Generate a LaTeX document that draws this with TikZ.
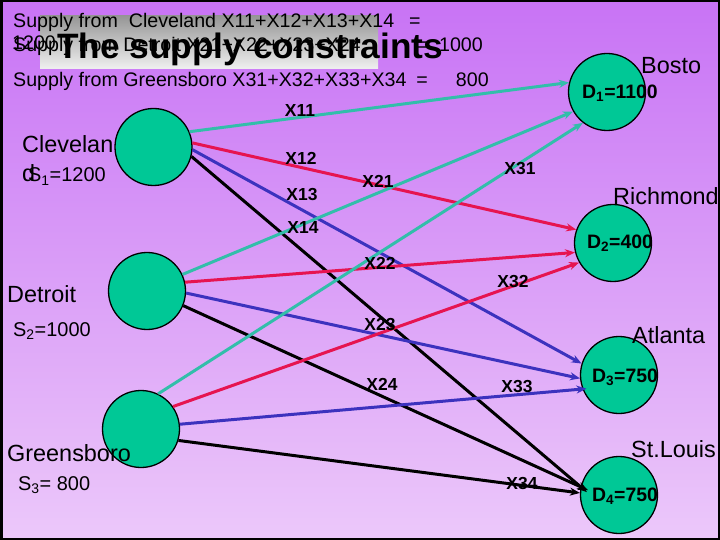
\documentclass[tikz,border=0pt]{standalone}
\usepackage{fontspec}
\setmainfont{Liberation Sans}
\usetikzlibrary{arrows.meta}
\definecolor{bgtop}{RGB}{200,115,245}
\definecolor{bgbot}{RGB}{236,200,250}
\definecolor{nodefill}{RGB}{0,200,150}
\definecolor{cteal}{RGB}{50,190,170}
\definecolor{cred}{RGB}{230,20,80}
\definecolor{cblue}{RGB}{60,50,190}
\begin{document}
\begin{tikzpicture}[x=1bp,y=-1bp,
  site/.style={circle,draw=black,line width=1.3bp,fill=nodefill,minimum size=77bp,inner sep=0pt},
  flow/.style={line width=3bp,-{Stealth[length=10bp,width=8bp]}},
  xlbl/.style={font=\fontsize{17.5}{19}\selectfont\bfseries,inner sep=0pt},
  dlbl/.style={font=\fontsize{19.5}{22}\selectfont\bfseries,inner sep=0pt},
  city/.style={font=\fontsize{23.5}{28}\selectfont,anchor=base west,inner sep=0pt},
  supl/.style={font=\fontsize{20}{24}\selectfont,anchor=base west,inner sep=0pt},
  topl/.style={font=\fontsize{19.7}{23}\selectfont,anchor=base west,inner sep=0pt}]
\useasboundingbox (0,0) rectangle (720,540);
\shade[top color=bgtop,bottom color=bgbot] (0,0) rectangle (720,540);
\draw[line width=5bp] (0,0) rectangle (720,540);
% title box
\shade[top color={rgb,255:red,150;green,150;blue,150},bottom color={rgb,255:red,240;green,240;blue,240}] (40,16) rectangle (378,69);
% top texts
\node[topl] (t1) at (13,28) {Supply from\hspace{11bp}Cleveland X11+X12+X13+X14\hspace{15bp}=};
\node[topl] (t1b) at (12,50) {1200};
\node[topl] (t2) at (13,52) {Supply from Detroit X21+X22+X23+X24\hspace{55bp}=\hspace{12bp}1000};
\node[topl] (t3) at (13,87) {Supply from Greensboro X31+X32+X33+X34\hspace{10bp}=\hspace{28bp}800};
\node[font=\fontsize{35.4}{40}\selectfont\bfseries,anchor=base west,inner sep=0pt] (title) at (57,59) {The supply constraints};
% circles
\node[site] (s1) at (153.5,147) {};
\node[site] (s2) at (147,291) {};
\node[site] (s3) at (141,429) {};
\node[site] (d1) at (607,92) {};
\node[site] (d2) at (613,243) {};
\node[site] (d3) at (619,375) {};
\node[site] (d4) at (619,495) {};
% connectors
\draw[flow,cteal] (s1.23) -- (d1.166);
\draw[flow,cred] (s1.6) -- (d2.160);
\draw[flow,cblue] (s1.-4) -- (d3.163);
\draw[flow,black,shorten >=-8bp] (s1.-14) -- (d4.168);
\draw[flow,cteal] (s2.25) -- (d1.210);
\draw[flow,cred] (s2.13) -- (d2.194);
\draw[flow,cblue] (s2.-3) -- (d3.185);
\draw[flow,black,shorten >=-8bp] (s2.-22) -- (d4.168);
\draw[flow,cteal] (s3.64) -- (d1.232);
\draw[flow,cred] (s3.35) -- (d2.210);
\draw[flow,cblue,shorten >=-4bp] (s3.7) -- (d3.201);
\draw[flow,black] (s3.-17) -- (d4.177);
% edge labels
\node[xlbl] (l11) at (300,111) {X11};
\node[xlbl] (l12) at (301,158) {X12};
\node[xlbl] (l13) at (302,195) {X13};
\node[xlbl] (l14) at (303,228) {X14};
\node[xlbl] (l21) at (378,181) {X21};
\node[xlbl] (l31) at (520,169) {X31};
\node[xlbl] (l22) at (380,263) {X22};
\node[xlbl] (l32) at (513,282) {X32};
\node[xlbl] (l23) at (380,325) {X23};
\node[xlbl] (l24) at (382,384) {X24};
\node[xlbl] (l33) at (517,387) {X33};
\node[xlbl] (l34) at (522,484) {X34};
% demand labels
\node[dlbl] (td1) at (620,93) {D\textsubscript{1}=1100};
\node[dlbl] (td2) at (620,243) {D\textsubscript{2}=400};
\node[dlbl] (td3) at (625,377) {D\textsubscript{3}=750};
\node[dlbl] (td4) at (625,496) {D\textsubscript{4}=750};
% city labels
\node[city] (cb) at (641,74) {Bosto};
\node[city] (cr) at (613,205) {Richmond};
\node[city] (ca) at (632,343) {Atlanta};
\node[city] (cs) at (631,457) {St.Louis};
\node[city] (cc) at (22,153) {Clevelan};
\node[city] (ccd) at (22,182) {d};
\node[city] (cd) at (7,302) {Detroit};
\node[city] (cg) at (7,461) {Greensboro};
% supply labels
\node[supl] (ss1) at (28,182) {S\textsubscript{1}=1200};
\node[supl] (ss2) at (13,336) {S\textsubscript{2}=1000};
\node[supl] (ss3) at (18,490) {S\textsubscript{3}= 800};
\end{tikzpicture}
\end{document}
